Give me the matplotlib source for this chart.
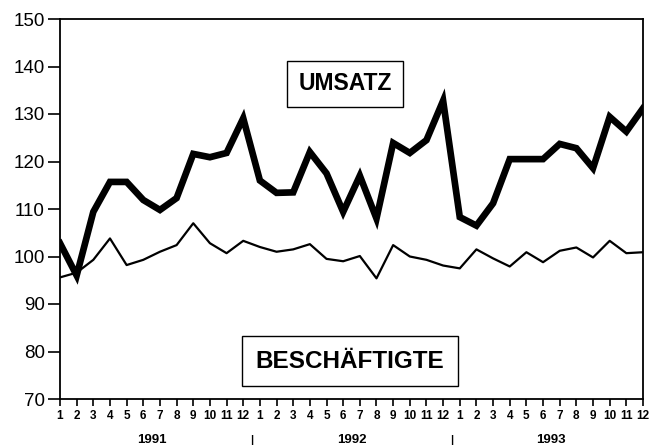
import matplotlib.pyplot as plt
import numpy as np

# DATA
month_labels = [str(m) for m in range(1, 13)] * 3
years = ['1991', '1992', '1993']
umsatz = [102.8, 96.0, 109.4, 115.7, 115.7, 111.9, 109.8, 112.3, 121.6, 120.9, 121.8, 129.1,
          116.0, 113.4, 113.5, 122.0, 117.5, 109.4, 117.0, 108.0, 123.9, 121.8, 124.5, 132.8,
          108.3, 106.5, 111.2, 120.5, 120.5, 120.5, 123.7, 122.8, 118.6, 129.4, 126.3, 131.2]
beschaeftigte = [95.6, 96.6, 99.3, 103.8, 98.2, 99.3, 101.0, 102.4, 107.0, 102.8, 100.7, 103.3,
                 102.0, 101.0, 101.5, 102.6, 99.5, 99.0, 100.1, 95.4, 102.4, 100.0, 99.3, 98.1,
                 97.5, 101.5, 99.6, 97.9, 100.9, 98.8, 101.2, 101.9, 99.8, 103.3, 100.7, 100.9]
yticks = [70, 80, 90, 100, 110, 120, 130, 140, 150]

plt.rcParams['font.family'] = ['Liberation Sans', 'DejaVu Sans']

fig = plt.figure(figsize=(6.55, 4.46), dpi=100)
ax = fig.add_axes([60 / 655, 47 / 446, 583 / 655, 380 / 446])

x = np.arange(1, len(umsatz) + 1)
ax.plot(x, umsatz, color='black', linewidth=4.8, solid_joinstyle='miter', zorder=3)
ax.plot(x, beschaeftigte, color='black', linewidth=1.6, zorder=2)

ax.set_xlim(1, 36)
ax.set_ylim(70, 150)

ax.set_yticks(yticks)
ax.set_yticklabels([str(t) for t in yticks], fontsize=13.5)
ax.tick_params(axis='y', direction='out', length=9, width=1.2, pad=2)

ax.set_xticks(x)
ax.set_xticklabels(month_labels, fontsize=8.5, fontweight='bold')
ax.tick_params(axis='x', direction='out', length=5, width=1.2, pad=3)

for spine in ax.spines.values():
    spine.set_linewidth(1.3)

# year labels and separators below the month ticks
for i, yr in enumerate(years):
    ax.text(6.5 + 12 * i, -0.107, yr, transform=ax.get_xaxis_transform(),
            ha='center', va='center', fontsize=9.5, fontweight='bold')
for sep in [12.5, 24.5]:
    ax.text(sep, -0.107, '|', transform=ax.get_xaxis_transform(),
            ha='center', va='center', fontsize=8, fontweight='bold')

# series labels in boxes
ax.text(18.1, 136.4, 'UMSATZ', ha='center', va='center', fontsize=16.5,
        fontweight='bold',
        bbox=dict(facecolor='white', edgecolor='black', linewidth=1.0,
                  boxstyle='square,pad=0.5'))
ax.text(18.4, 78.0, 'BESCHÄFTIGTE', ha='center', va='center', fontsize=17.5,
        fontweight='bold',
        bbox=dict(facecolor='white', edgecolor='black', linewidth=1.0,
                  boxstyle='square,pad=0.55'))

plt.savefig('out.png', dpi=100)
